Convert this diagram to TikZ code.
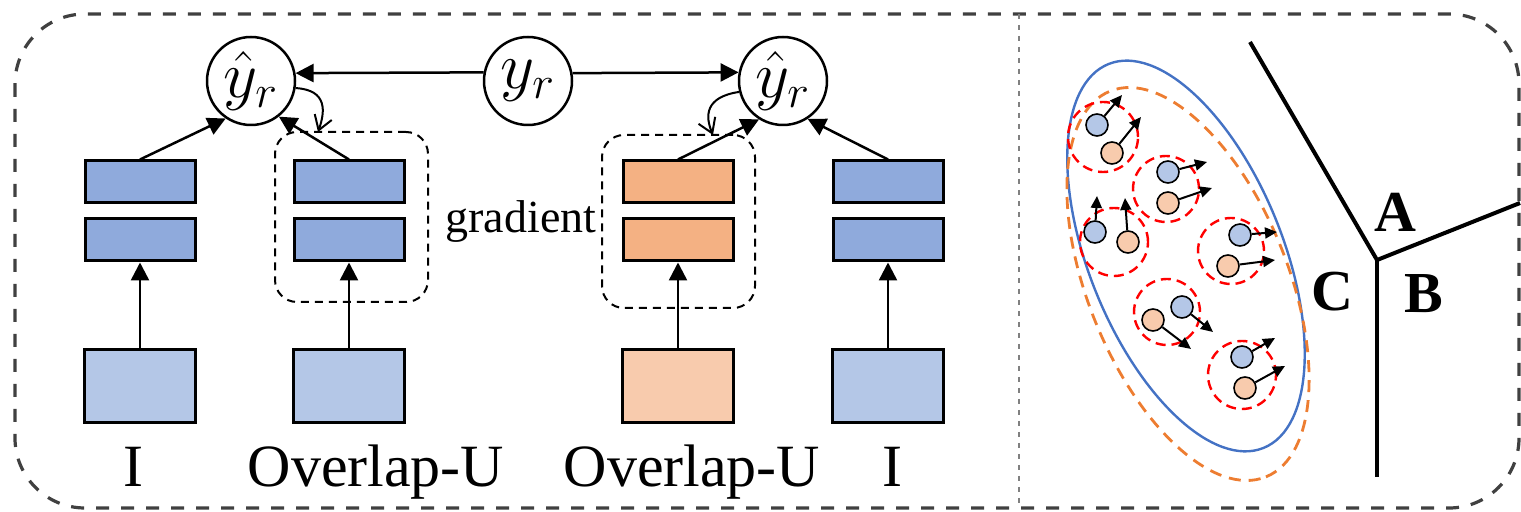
\documentclass[tikz,border=0pt]{standalone}
\usepackage{graphicx}
\usepackage{fontspec}
\setmainfont{Liberation Serif}
\usetikzlibrary{arrows.meta}

\definecolor{featBlue}{HTML}{8FAADC}
\definecolor{inBlue}{HTML}{B4C7E7}
\definecolor{featOrange}{HTML}{F4B183}
\definecolor{inOrange}{HTML}{F8CBAD}
\definecolor{ellBlue}{HTML}{4472C4}
\definecolor{ellOrange}{HTML}{ED7D31}
\definecolor{frameGray}{HTML}{404040}

% large math symbol inside the round nodes
\newcommand{\bigsym}[1]{{\fontsize{20}{24}\selectfont\scalebox{1.6}{$#1$}}}

\tikzset{
  frame/.style={draw=frameGray, line width=1.6pt, dash pattern=on 6.5pt off 6pt, rounded corners=35pt},
  divider/.style={draw=gray, line width=1pt, dash pattern=on 2.5pt off 3pt},
  rnode/.style={circle, draw, line width=1.25pt, minimum size=44pt, inner sep=0pt},
  feat/.style={draw, line width=1.5pt, minimum width=55pt, minimum height=21pt, inner sep=0pt},
  featB/.style={feat, fill=featBlue},
  featO/.style={feat, fill=featOrange},
  inbox/.style={draw, line width=1.5pt, minimum width=55.5pt, minimum height=36.5pt, inner sep=0pt},
  inB/.style={inbox, fill=inBlue},
  inO/.style={inbox, fill=inOrange},
  grp/.style={draw, line width=1pt, dash pattern=on 4pt off 3pt, rounded corners=11pt, inner sep=0pt},
  arr/.style={line width=1.25pt, -{Triangle[length=9pt, width=9pt]}},
  garr/.style={line width=1pt, -{Straight Barb[length=7pt, width=9pt]}},
  lbl/.style={inner sep=0pt, anchor=base, font=\fontsize{30}{36}\selectfont},
  gtxt/.style={inner sep=0pt, anchor=base, font=\fontsize{23}{28}\selectfont},
  abc/.style={inner sep=0pt, font=\fontsize{29}{34}\selectfont\bfseries},
  redc/.style={circle, draw=red, line width=1.2pt, dash pattern=on 5pt off 3pt, inner sep=0pt},
  dotB/.style={circle, draw, line width=0.8pt, fill=inBlue, minimum size=11pt, inner sep=0pt},
  dotO/.style={circle, draw, line width=0.8pt, fill=inOrange, minimum size=11pt, inner sep=0pt},
  darr/.style={line width=1pt, -{Triangle[length=6pt, width=5.5pt]}},
  vor/.style={line width=2pt, line join=miter},
}

\begin{document}
\begin{tikzpicture}[x=0.5pt, y=-0.5pt]
\useasboundingbox (0,0) rectangle (1521,512);

% outer frame and panel divider
\draw[frame] (15,14) rectangle (1519,508);
\draw[divider] (1019,14) -- (1019,508);

% ---------------- left panel ----------------
% grouped branches
\node[grp, minimum width=76.5pt, minimum height=85pt] (lgrp) at (351.5,217) {};
\node[grp, minimum width=76.5pt, minimum height=86.5pt] (rgrp) at (678.5,221.5) {};

% prediction and target nodes
\node[rnode] (lyh) at (251,81) {\bigsym{\hat{y}_r}};
\node[rnode] (yr)  at (528,81) {\bigsym{y_r}};
\node[rnode] (ryh) at (783,81) {\bigsym{\hat{y}_r}};

% feature layers
\node[featB] (c1a) at (140,182) {};
\node[featB] (c1b) at (140,240) {};
\node[featB] (c2a) at (349,182) {};
\node[featB] (c2b) at (349,240) {};
\node[featO] (c3a) at (678,182) {};
\node[featO] (c3b) at (678,240) {};
\node[featB] (c4a) at (888,182) {};
\node[featB] (c4b) at (888,240) {};

% inputs
\node[inB] (c1in) at (140,386.5) {};
\node[inB] (c2in) at (349,386.5) {};
\node[inO] (c3in) at (678,386.5) {};
\node[inB] (c4in) at (888,386.5) {};

% input labels
\node[lbl] (l1) at (133,487) {I};
\node[lbl] (l2) at (376,487) {Overlap-U};
\node[lbl] (l3) at (692,487) {Overlap-U};
\node[lbl] (l4) at (892,487) {I};
\node[gtxt] (grad) at (521,233) {gradient};

% connections
\draw[arr] (c1in.north) -- (c1b.south);
\draw[arr] (c2in.north) -- (c2b.south);
\draw[arr] (c3in.north) -- (c3b.south);
\draw[arr] (c4in.north) -- (c4b.south);
\draw[arr] (c1a.north) -- (lyh.236);
\draw[arr] (c2a.north) -- (lyh.308);
\draw[arr] (c3a.north) -- (ryh.238);
\draw[arr] (c4a.north) -- (ryh.303);
\draw[arr] (yr.169.5) -- (lyh.10.5);
\draw[arr] (yr.10.5) -- (ryh.169.5);

% gradient feedback
\coordinate (lg) at (318,132);
\coordinate (rg) at (713,135);
\draw[garr] (lyh.-9) .. controls (328,90) and (325,112) .. (lg);
\draw[garr] (ryh.194) .. controls (705,97) and (705,116) .. (rg);

% ---------------- right panel ----------------
\begin{scope}[rotate around={-68:(1186,256)}]
  \draw[ellBlue, line width=1.2pt] (1186,256) ellipse [x radius=103.5pt, y radius=48.5pt];
\end{scope}
\begin{scope}[rotate around={-68:(1188,284)}]
  \draw[ellOrange, line width=1.4pt, dash pattern=on 6pt off 4pt] (1188,284) ellipse [x radius=104pt, y radius=50pt];
\end{scope}

% neighbourhoods
\node[redc, minimum size=35pt] (n1) at (1103,137) {};
\node[redc, minimum size=33pt] (n2) at (1166,189) {};
\node[redc, minimum size=34pt] (n3) at (1114,242) {};
\node[redc, minimum size=33pt] (n4) at (1231,251) {};
\node[redc, minimum size=33pt] (n5) at (1167,312) {};
\node[redc, minimum size=34pt] (n6) at (1242,375) {};

% arrow tips of the sample shifts
\coordinate (tb1) at (1122,95);
\coordinate (to1) at (1141,117);
\coordinate (tb2) at (1207,162);
\coordinate (to2) at (1212,188);
\coordinate (tb3) at (1097,196);
\coordinate (to3) at (1125,198);
\coordinate (tb4) at (1277,232);
\coordinate (to4) at (1275,260);
\coordinate (tb5) at (1213,332);
\coordinate (to5) at (1191,349);
\coordinate (tb6) at (1275,338);
\coordinate (to6) at (1285,366);

% samples
\node[dotB] (b1) at (1097,125) {};
\node[dotO] (o1) at (1112,153) {};
\node[dotB] (b2) at (1168,172) {};
\node[dotO] (o2) at (1168,203) {};
\node[dotB] (b3) at (1095,232) {};
\node[dotO] (o3) at (1128,242) {};
\node[dotB] (b4) at (1240,235) {};
\node[dotO] (o4) at (1228,266) {};
\node[dotB] (b5) at (1182,307) {};
\node[dotO] (o5) at (1153,320) {};
\node[dotB] (b6) at (1242,357) {};
\node[dotO] (o6) at (1245,388) {};

\foreach \s in {1,...,6} {
  \draw[darr] (b\s) -- (tb\s);
  \draw[darr] (o\s) -- (to\s);
}

% decision boundaries
\coordinate (vj) at (1377,260);
\draw[vor] (1250,42) -- (vj) -- (1520,203);
\draw[vor] (vj) -- (1377,477);
\node[abc] (rA) at (1395,212) {A};
\node[abc] (rB) at (1424,294) {B};
\node[abc] (rC) at (1332,292) {C};
\end{tikzpicture}
\end{document}
